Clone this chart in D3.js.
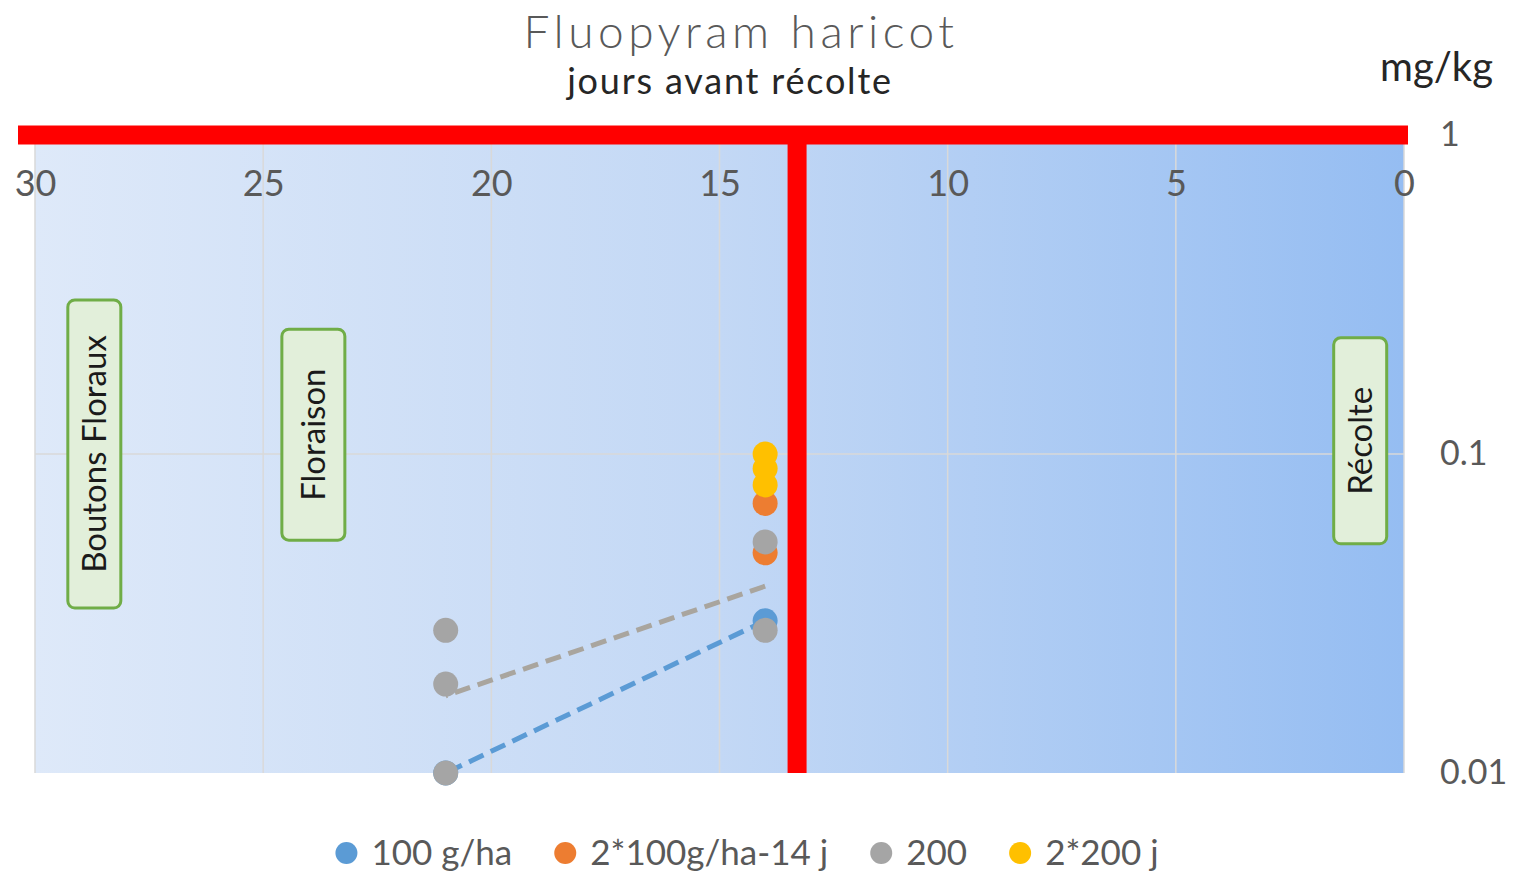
<!DOCTYPE html>
<meta charset="utf-8">
<style>

body {
  margin: 0;
  background: #fff;
  font-family: Lato, "Open Sans", sans-serif;
}

.tick text {
  fill: #595959;
}

.grid line {
  stroke: #d9d9d9;
  stroke-width: 1.5px;
}

.trend {
  fill: none;
  stroke-width: 5px;
  stroke-dasharray: 16,8;
}

.stage rect {
  fill: #e2efda;
  stroke: #70ad47;
  stroke-width: 3px;
}

.stage text {
  fill: #1a1a1a;
  font-size: 33px;
  text-anchor: middle;
}

.legend text {
  fill: #595959;
  font-size: 35px;
}

</style>

<svg width="1514" height="874"></svg>
<script src="https://d3js.org/d3.v7.min.js"></script>
<script>

// series: days before harvest and residue (mg/kg)
var seriesNames = ["100 g/ha", "2*100g/ha-14 j", "200", "2*200 j"];
var seriesColors = ["#5b9bd5", "#ed7d31", "#a5a5a5", "#ffc000"];

var blueDays = [21, 14],
    blueValues = [0.01, 0.03];
var orangeDays = [14, 14],
    orangeValues = [0.07, 0.049];
var greyDays = [21, 21, 21, 14, 14],
    greyValues = [0.028, 0.019, 0.01, 0.053, 0.028];
var yellowDays = [14, 14, 14],
    yellowValues = [0.1, 0.09, 0.08];

var xTicks = [30, 25, 20, 15, 10, 5, 0];
var yTicks = [0.01, 0.1, 1];

// reference lines: limit 1 mg/kg and 13.3 days
var limitValue = 1,
    limitDay = 13.3;

// crop stages
var stageNames = ["Boutons Floraux", "Floraison", "Récolte"];
var stageDays = [28.7, 23.9, 0.96];
var stageValues = [0.1, 0.115, 0.11];
var stageBox = [[53, 308], [63, 211], [53, 206]];

var svg = d3.select("svg");

var x = d3.scaleLinear().domain([30, 0]).range([35, 1404]);
var y = d3.scaleLog().domain([0.01, 1]).range([773, 135]);

var defs = svg.append("defs");
var grad = defs.append("linearGradient").attr("id", "bg");
grad.append("stop").attr("offset", "0%").attr("stop-color", "#dee9f9");
grad.append("stop").attr("offset", "50%").attr("stop-color", "#c3d8f5");
grad.append("stop").attr("offset", "100%").attr("stop-color", "#95bdf2");

svg.append("rect")
    .attr("x", x(30))
    .attr("y", y(1))
    .attr("width", x(0) - x(30))
    .attr("height", y(0.01) - y(1))
    .attr("fill", "url(#bg)");

// grid
var grid = svg.append("g").attr("class", "grid");
grid.selectAll(".vx")
    .data(xTicks)
    .enter().append("line")
    .attr("x1", d => x(d)).attr("x2", d => x(d))
    .attr("y1", y(1)).attr("y2", y(0.01));
grid.selectAll(".hy")
    .data([0.1])
    .enter().append("line")
    .attr("x1", x(30)).attr("x2", x(0))
    .attr("y1", d => y(d)).attr("y2", d => y(d));

// stage labels
var stage = svg.selectAll(".stage")
    .data(stageNames)
    .enter().append("g")
    .attr("class", "stage")
    .attr("transform", (d, i) => "translate(" + x(stageDays[i]) + "," + y(stageValues[i]) + ")");

stage.append("rect")
    .attr("x", (d, i) => -stageBox[i][0] / 2)
    .attr("y", (d, i) => -stageBox[i][1] / 2)
    .attr("width", (d, i) => stageBox[i][0])
    .attr("height", (d, i) => stageBox[i][1])
    .attr("rx", 7);

stage.append("text")
    .attr("transform", "rotate(-90)")
    .attr("dy", "0.35em")
    .text(d => d);

// exponential trendlines (least squares on log values)
function trend(days, values) {
  var mx = d3.mean(days),
      ly = values.map(v => Math.log10(v)),
      my = d3.mean(ly),
      sxy = d3.sum(days, (d, i) => (d - mx) * (ly[i] - my)),
      sxx = d3.sum(days, d => (d - mx) * (d - mx)),
      b = sxy / sxx,
      a = my - b * mx;
  return d3.extent(days).map(d => [d, Math.pow(10, a + b * d)]);
}

var line = d3.line().x(d => x(d[0])).y(d => y(d[1]));

svg.append("path")
    .attr("class", "trend")
    .attr("stroke", seriesColors[0])
    .attr("d", line(trend(blueDays, blueValues)));

svg.append("path")
    .attr("class", "trend")
    .attr("stroke", "#a9a59e")
    .attr("d", line(trend(greyDays, greyValues)));

// points
var allDays = [blueDays, orangeDays, greyDays, yellowDays];
var allValues = [blueValues, orangeValues, greyValues, yellowValues];

allDays.forEach(function(days, s) {
  svg.append("g")
    .selectAll("circle")
    .data(days)
    .enter().append("circle")
    .attr("cx", d => x(d))
    .attr("cy", (d, i) => y(allValues[s][i]))
    .attr("r", 12.5)
    .attr("fill", seriesColors[s]);
});

// red reference lines
svg.append("line")
    .attr("x1", x(limitDay)).attr("x2", x(limitDay))
    .attr("y1", y(limitValue) - 9).attr("y2", y(0.01))
    .attr("stroke", "#ff0000")
    .attr("stroke-width", 19);

svg.append("line")
    .attr("x1", x(30) - 17).attr("x2", x(0) + 4)
    .attr("y1", y(limitValue)).attr("y2", y(limitValue))
    .attr("stroke", "#ff0000")
    .attr("stroke-width", 19);

// axes
var xAxis = svg.append("g")
    .attr("transform", "translate(0," + y(1) + ")")
    .call(d3.axisBottom(x).tickValues(xTicks).tickSize(0).tickPadding(35));
xAxis.select(".domain").remove();
xAxis.selectAll("text").attr("font-size", 36).attr("font-family", "Lato");

var yAxis = svg.append("g")
    .attr("transform", "translate(" + x(0) + ",0)")
    .call(d3.axisRight(y).tickValues(yTicks).tickFormat(d3.format("~g")).tickSize(0).tickPadding(36));
yAxis.select(".domain").remove();
yAxis.selectAll("text").attr("font-size", 34).attr("font-family", "Lato");

// titles
svg.append("text")
    .attr("x", 741).attr("y", 48)
    .attr("text-anchor", "middle")
    .attr("font-size", 46)
    .attr("font-weight", 300)
    .attr("letter-spacing", 4.5)
    .attr("fill", "#595959")
    .text("Fluopyram haricot");

svg.append("text")
    .attr("x", 730).attr("y", 94)
    .attr("text-anchor", "middle")
    .attr("font-size", 36)
    .attr("letter-spacing", 1.8)
    .attr("fill", "#262626")
    .text("jours avant récolte");

svg.append("text")
    .attr("x", 1493).attr("y", 81)
    .attr("text-anchor", "end")
    .attr("font-size", 40)
    .attr("fill", "#262626")
    .text("mg/kg");

// legend
var legend = svg.append("g").attr("class", "legend");
var lx = 0;
seriesNames.forEach(function(name, i) {
  var item = legend.append("g").attr("transform", "translate(" + lx + ",0)");
  item.append("circle").attr("cx", 11).attr("cy", 0).attr("r", 11).attr("fill", seriesColors[i]);
  var t = item.append("text").attr("x", 36).attr("dy", "0.35em").text(name);
  lx += 36 + t.node().getComputedTextLength() + 42;
});
legend.attr("transform", "translate(" + (747 - (lx - 42) / 2) + ",853)");

</script>
